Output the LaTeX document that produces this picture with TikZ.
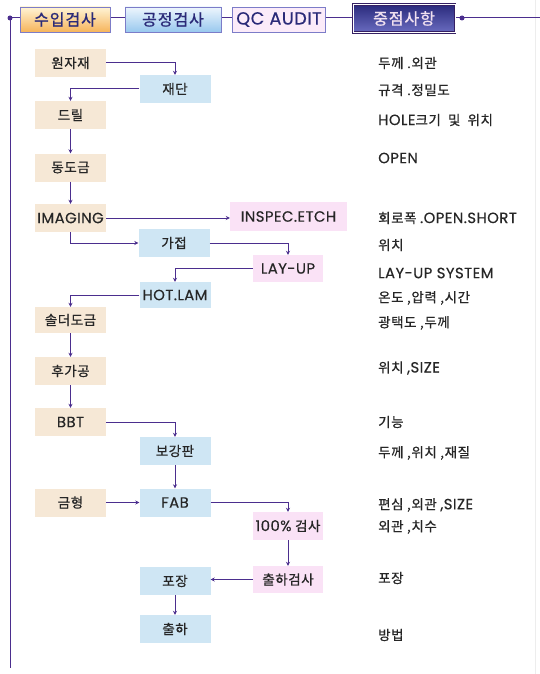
\documentclass[tikz,border=0pt]{standalone}
\usepackage{fontspec}
\setmainfont{Noto Sans CJK KR}
\newfontfamily\medf{Noto Sans CJK KR}[FakeBold=0.7, LetterSpace=4]
\newfontfamily\hdrf{Noto Sans CJK KR}[FakeBold=1, LetterSpace=6]
\newfontfamily\latf{Poppins}[Scale=1.1, FakeBold=0.4, LetterSpace=3]
\newcommand\lt[1]{{\latf #1}}
\usetikzlibrary{arrows.meta}
\definecolor{ln}{HTML}{4B2E8E}
\definecolor{beigec}{HTML}{F6E8D6}
\definecolor{bluec}{HTML}{CFE6F4}
\definecolor{pinkc}{HTML}{FAE2F6}
\definecolor{hdrborder}{HTML}{7C7CC8}
\definecolor{txt}{HTML}{262626}
\definecolor{htxt}{HTML}{2A2A78}
\definecolor{otop}{HTML}{FFF4D6}
\definecolor{obot}{HTML}{F6B45A}
\definecolor{btop}{HTML}{EEF6FD}
\definecolor{bbot}{HTML}{98C8EE}
\definecolor{ntop}{HTML}{2A2A7C}
\definecolor{nbot}{HTML}{6A6CC0}
\tikzset{
  box/.style={inner sep=0pt, minimum width=71pt, minimum height=28pt, font=\medf\fontsize{13.5}{15}\selectfont, text=txt},
  bbox/.style={box, fill=beigec},
  lbox/.style={box, fill=bluec},
  pbox/.style={box, fill=pinkc},
  hdr/.style={draw=hdrborder, line width=0.8pt, inner sep=0pt, minimum height=25pt, font=\hdrf\fontsize{16}{18}\selectfont, text=htxt},
  note/.style={anchor=west, inner sep=0pt, font=\medf\fontsize{13.5}{15}\selectfont, text=txt},
  arr/.style={draw=ln, line width=1pt, -{Stealth[length=4pt,width=4pt]}},
  dot/.style={circle, fill=ln, inner sep=0pt, minimum size=5pt}
}
\begin{document}
\begin{tikzpicture}[x=1pt,y=-1pt]
\useasboundingbox[fill=white] (0,0) rectangle (540,674);
\draw[black!7, line width=1pt] (535,0) -- (535,674);
% header line and left rail
\coordinate (hl) at (10,18);
\coordinate (hr) at (540,18);
\coordinate (rb) at (10,668);
\draw[ln, line width=1pt] (hl) -- (hr);
\draw[ln, line width=1pt] (hl) -- (rb);
\node[dot] (d1) at (hl) {};
\node[dot] (d2) at (462,18) {};
% header boxes
\node[hdr, minimum width=90pt, top color=otop, bottom color=obot] (h1) at (65,19.5) {수입검사};
\node[hdr, minimum width=96pt, top color=btop, bottom color=bbot] (h2) at (173,19.5) {공정검사};
\node[hdr, minimum width=93pt, fill=pinkc!70!white] (h3) at (279,19.5) {\lt{QC AUDIT}};
\node[hdr, draw=ln!70!black, double=white, double distance=0.6pt, minimum width=102pt, minimum height=28pt, top color=ntop, bottom color=nbot, text=white!88!violet] (h4) at (404,18.5) {중점사항};
% flow nodes
\node[bbox] (wj) at (70.5,63) {원자재};
\node[lbox] (jd) at (175,89) {재단};
\node[bbox] (dr) at (70.5,115) {드릴};
\node[bbox] (dd) at (70.5,167.5) {동도금};
\node[bbox] (im) at (70.5,218) {\lt{IMAGING}};
\node[pbox, minimum width=117pt, minimum height=29pt] (ie) at (288.5,216.5) {\lt{INSPEC.ETCH}};
\node[lbox] (gj) at (174,243) {가접};
\node[pbox, minimum width=70pt, minimum height=27pt] (lu) at (288,268.5) {\lt{LAY-UP}};
\node[lbox, minimum height=26pt] (hot) at (175,295) {\lt{HOT.LAM}};
\node[bbox, minimum height=26pt] (sd) at (70.5,320) {솔더도금};
\node[bbox] (hg) at (70.5,371) {후가공};
\node[bbox] (bbt) at (70.5,422) {\lt{BBT}};
\node[lbox] (bg) at (175,451) {보강판};
\node[bbox] (gh) at (70.5,502.5) {금형};
\node[lbox] (fab) at (175,502.5) {\lt{FAB}};
\node[pbox, minimum width=70pt] (ins) at (288,526) {\lt{100\%} 검사};
\node[pbox, minimum width=70pt, minimum height=27pt] (chg) at (288,579.5) {출하검사};
\node[lbox] (pj) at (175,581) {포장};
\node[lbox] (ch) at (175,629) {출하};
% connectors
\draw[arr] (wj.east) -| (jd.north);
\draw[arr] (jd.west) -| (dr.north);
\draw[arr] (dr) -- (dd);
\draw[arr] (dd) -- (im);
\draw[arr] (im.east) -- (im.east -| ie.west);
\draw[arr] (im.south) |- (gj.west);
\draw[arr] (gj.east) -| (lu.north);
\draw[arr] (lu.west) -| (hot.north);
\draw[arr] (hot.west) -| (sd.north);
\draw[arr] (sd) -- (hg);
\draw[arr] (hg) -- (bbt);
\draw[arr] (bbt.east) -| (bg.north);
\draw[arr] (bg) -- (fab);
\draw[arr] (gh) -- (fab);
\draw[arr] (fab.east) -| (ins.north);
\draw[arr] (ins) -- (chg);
\draw[arr] (chg.west) -- (chg.west -| pj.east);
\draw[arr] (pj) -- (ch);
% notes
\node[note] (n1) at (378,63) {두께 .외관};
\node[note] (n2) at (378,90) {규격 .정밀도};
\node[note] (n3) at (378,120) {\lt{HOLE}크기 \ 및 \ 위치};
\node[note] (n4) at (378,158) {\lt{OPEN}};
\node[note] (n5) at (378,218) {회로폭 \lt{.OPEN.SHORT}};
\node[note] (n6) at (378,245) {위치};
\node[note] (n7) at (378,273) {\lt{LAY-UP SYSTEM}};
\node[note] (n8) at (378,298) {온도 ,압력 ,시간};
\node[note] (n9) at (378,323) {광택도 ,두께};
\node[note] (n10) at (378,368) {위치 \lt{,SIZE}};
\node[note] (n11) at (378,422) {기능};
\node[note] (n12) at (378,453) {두께 ,위치 ,재질};
\node[note] (n13) at (378,505) {편심 ,외관 \lt{,SIZE}};
\node[note] (n14) at (378,527) {외관 ,치수};
\node[note] (n15) at (378,578) {포장};
\node[note] (n16) at (378,635) {방법};
\end{tikzpicture}
\end{document}
